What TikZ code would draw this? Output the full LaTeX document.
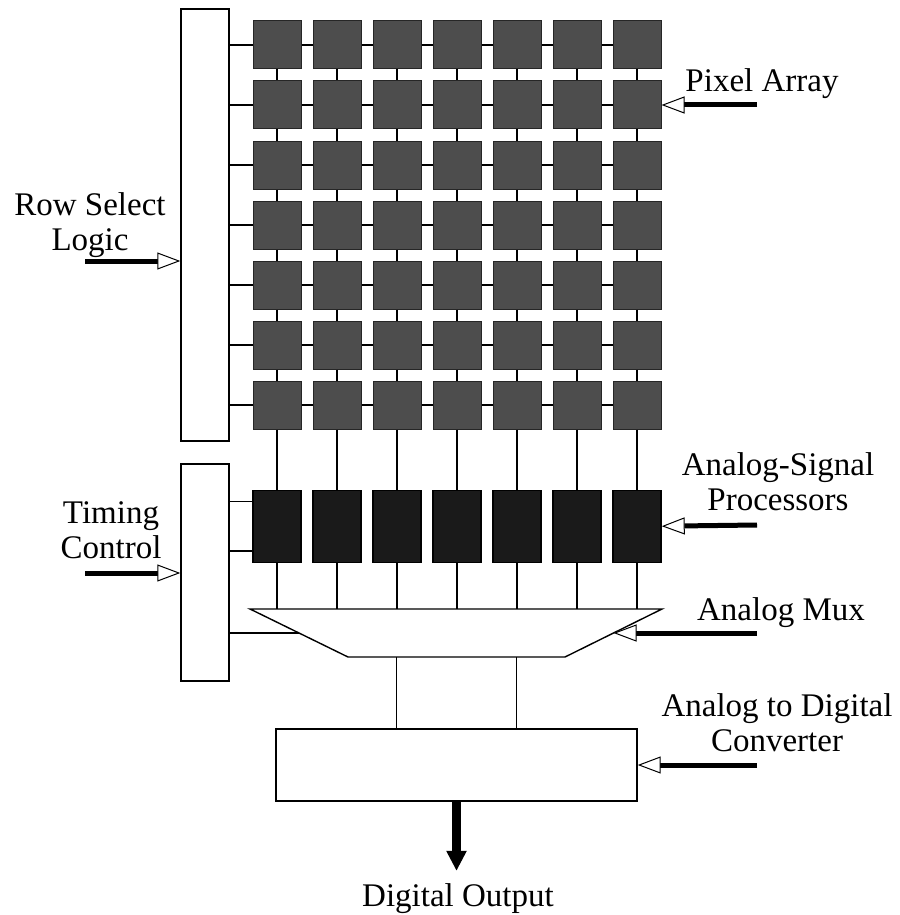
\documentclass[tikz,border=0pt]{standalone}
\usepackage{fontspec}
\setmainfont{Liberation Serif}
\usepackage{xcolor}
\usepackage{tikz}
\usetikzlibrary{arrows.meta, positioning, calc}
\definecolor{pixgray}{HTML}{4D4D4D}
\definecolor{aspdark}{HTML}{1A1A1A}
\tikzstyle{box}      = [rectangle, draw=black, line width=1.4pt, fill=white, inner sep=0pt]
\tikzstyle{pixel}    = [rectangle, draw=black!85, line width=1pt, fill=pixgray,
    minimum width=48pt, minimum height=48pt, inner sep=0pt]
\tikzstyle{asp}      = [rectangle, draw=black, line width=1.4pt, fill=aspdark,
    minimum width=48pt, minimum height=72pt, inner sep=0pt]
\tikzstyle{lbl}      = [font=\fontsize{33}{35}\selectfont, align=center, inner sep=0pt]
\tikzstyle{wire}     = [line width=1.4pt]
\tikzstyle{inarrow}  = [-{Triangle[length=23pt, width=17pt, fill=white, line width=1pt]}, line width=5pt]
\tikzstyle{outarrow} = [-{Triangle[length=20pt, width=19pt]}, line width=9pt]

\begin{document}
\begin{tikzpicture}[x=1pt, y=-1pt]
  \useasboundingbox (0,0) rectangle (899,915);

  % control blocks
  \node[box, minimum width=48pt, minimum height=432pt] (rowsel) at (205,225) {};
  \node[box, minimum width=48pt, minimum height=217pt] (timing) at (205,572.5) {};

  % pixel array
  \foreach \r in {1,...,7}
    \foreach \c in {1,...,7}
      \node[pixel] (p-\r-\c) at ({217+60*\c},{-15+60*\r}) {};

  % analog signal processors
  \foreach \c in {1,...,7}
    \node[asp, below=60pt of p-7-\c] (asp-\c) {};

  % mux
  \coordinate (mux-tl) at (250,609);
  \coordinate (mux-tr) at (662,609);
  \coordinate (mux-br) at (565,657);
  \coordinate (mux-bl) at (348,657);
  \draw[line width=1.4pt] (mux-tl) -- (mux-tr) -- (mux-br) -- (mux-bl) -- cycle;
  \coordinate (mux-w) at ($(mux-tl)!.5!(mux-bl)$);
  \coordinate (mux-e) at ($(mux-tr)!.5!(mux-br)$);

  % adc
  \node[box, minimum width=361pt, minimum height=72pt] (adc) at (456.5,765) {};

  % row wires
  \foreach \r in {1,...,7} {
    \draw[wire] (rowsel.east |- p-\r-1) -- (p-\r-1);
    \foreach \c [count=\n from 2] in {1,...,6}
      \draw[wire] (p-\r-\c) -- (p-\r-\n);
  }
  % column wires
  \foreach \c in {1,...,7} {
    \foreach \r [count=\n from 2] in {1,...,6}
      \draw[wire] (p-\r-\c) -- (p-\n-\c);
    \draw[wire] (p-7-\c) -- (asp-\c);
    \draw[wire] (asp-\c) -- (asp-\c |- mux-tl);
  }

  % timing lines
  \coordinate (t-a) at ([yshift=-12pt]asp-1.north west);
  \coordinate (t-b) at ([yshift=12pt]asp-1.south west);
  \draw[wire] (timing.east |- t-a) -- (t-a);
  \draw[wire] (timing.east |- t-b) -- (t-b);
  \draw[wire] (timing.east |- mux-w) -- (mux-w);

  % mux to adc
  \coordinate (adc-i1) at ([xshift=-60pt]adc.north);
  \coordinate (adc-i2) at ([xshift=60pt]adc.north);
  \draw[wire] (adc-i1 |- mux-bl) -- (adc-i1);
  \draw[wire] (adc-i2 |- mux-bl) -- (adc-i2);

  % labels
  \node[lbl] (rs-lbl)  at (90,225)  {Row Select\\Logic};
  \node[lbl] (tc-lbl)  at (111,530) {Timing\\Control};
  \node[lbl] (pa-lbl)  at (762,84)  {Pixel Array};
  \node[lbl] (asp-lbl) at (778,482) {Analog-Signal\\Processors};
  \node[lbl] (mux-lbl) at (781,613) {Analog Mux};
  \node[lbl] (adc-lbl) at (777,723) {Analog to Digital\\Converter};
  \node[lbl, anchor=base, inner ysep=12pt] (dout) at (458,906) {Digital Output};

  % pointer arrows
  \coordinate (rs-src)  at (85,261);
  \coordinate (tc-src)  at (85,573);
  \coordinate (pa-src)  at (757,105);
  \coordinate (asp-src) at (757,525);
  \coordinate (mux-src) at (757,633);
  \coordinate (adc-src) at (757,765);
  \draw[inarrow] (rs-src) -- (rs-src -| rowsel.west);
  \draw[inarrow] (tc-src) -- (tc-src -| timing.west);
  \draw[inarrow] (pa-src) -- (p-2-7.east);
  \draw[inarrow] (asp-src) -- (asp-7.east);
  \draw[inarrow] (mux-src) -- (mux-e);
  \draw[inarrow] (adc-src) -- (adc.east);
  \draw[outarrow] (adc.south) -- (adc.south |- dout.north);
\end{tikzpicture}
\end{document}
